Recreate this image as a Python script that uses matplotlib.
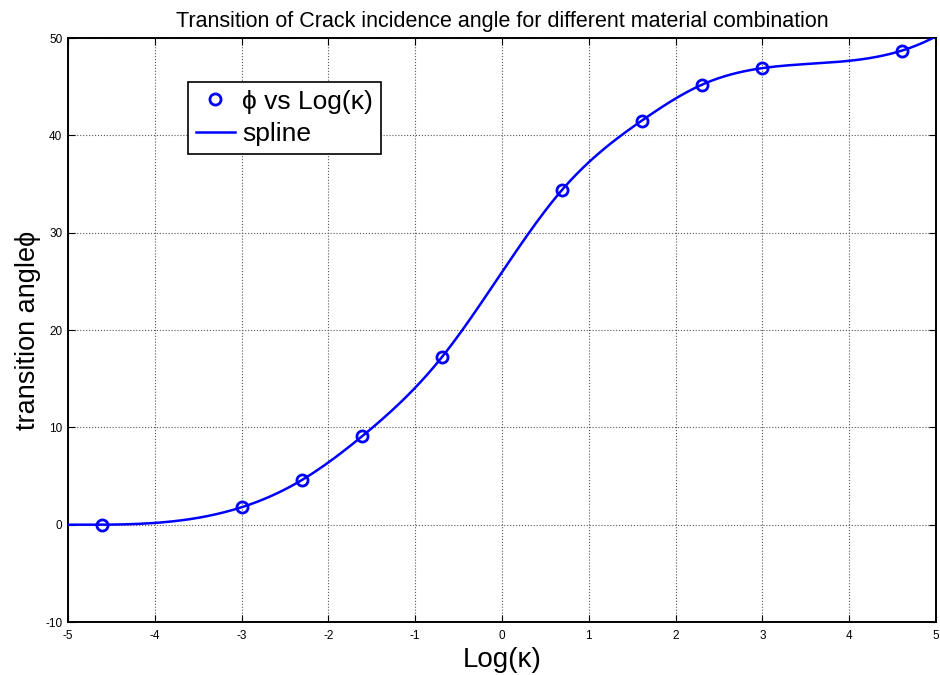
import numpy as np
import matplotlib

matplotlib.use("Agg")

import matplotlib.pyplot as plt  # noqa: E402

# Log(kappa) values of the tested material combinations and the transition angle
LOG_KAPPA = [-4.605, -2.996, -2.303, -1.609, -0.693, 0.693, 1.609, 2.303, 2.996, 4.605]
PHI = [0.0, 1.8, 4.6, 9.1, 17.2, 34.4, 41.5, 45.2, 46.9, 48.7]

X_TICKS = [-5, -4, -3, -2, -1, 0, 1, 2, 3, 4, 5]
Y_TICKS = [-10, 0, 10, 20, 30, 40, 50]


def not_a_knot_spline(x, y, xq):
    """Cubic spline with not-a-knot end conditions (same as MATLAB spline)."""
    x = np.asarray(x, float)
    y = np.asarray(y, float)
    n = len(x)
    h = np.diff(x)
    d = np.diff(y) / h
    A = np.zeros((n, n))
    b = np.zeros(n)
    # unknowns: second derivatives M
    for i in range(1, n - 1):
        A[i, i - 1] = h[i - 1]
        A[i, i] = 2 * (h[i - 1] + h[i])
        A[i, i + 1] = h[i]
        b[i] = 6 * (d[i] - d[i - 1])
    A[0, 0], A[0, 1], A[0, 2] = h[1], -(h[0] + h[1]), h[0]
    A[-1, -3], A[-1, -2], A[-1, -1] = h[-1], -(h[-2] + h[-1]), h[-2]
    M = np.linalg.solve(A, b)

    xq = np.asarray(xq, float)
    idx = np.clip(np.searchsorted(x, xq) - 1, 0, n - 2)
    x0, x1 = x[idx], x[idx + 1]
    hh = x1 - x0
    t0 = x1 - xq
    t1 = xq - x0
    return (M[idx] * t0 ** 3 / (6 * hh) + M[idx + 1] * t1 ** 3 / (6 * hh)
            + (y[idx] / hh - M[idx] * hh / 6) * t0
            + (y[idx + 1] / hh - M[idx + 1] * hh / 6) * t1)


plt.rcParams["font.family"] = ["Liberation Sans", "DejaVu Sans"]
plt.rcParams["axes.unicode_minus"] = False

fig = plt.figure(figsize=(9.4, 6.75), dpi=100)
ax = fig.add_axes([0.0723, 0.0785, 0.9234, 0.8652])

xs = np.linspace(X_TICKS[0], X_TICKS[-1], 400)
ax.plot(LOG_KAPPA, PHI, "o", color="#0000ff", markersize=8, markerfacecolor="none",
        markeredgewidth=2, label="\u03d5 vs Log(\u03ba)", zorder=4)
ax.plot(xs, not_a_knot_spline(LOG_KAPPA, PHI, xs), color="#0000ff", linewidth=1.8,
        label="spline", zorder=3)

ax.set_xlim(X_TICKS[0], X_TICKS[-1])
ax.set_ylim(Y_TICKS[0], Y_TICKS[-1])
ax.set_xticks(X_TICKS)
ax.set_yticks(Y_TICKS)
ax.tick_params(direction="in", top=True, right=True, labelsize=8.5, length=5, width=0.8)
ax.tick_params(axis="x", pad=6)
ax.tick_params(axis="y", pad=4)
ax.grid(True, color="#555555", linestyle=":", linewidth=0.8)
for s in ax.spines.values():
    s.set_linewidth(1.4)

ax.set_title("Transition of Crack incidence angle for different material combination",
             fontsize=15.5, pad=8)
ax.set_xlabel("Log(\u03ba)", fontsize=20, labelpad=3)
ax.set_ylabel("transition angle\u03d5", fontsize=19.5, labelpad=3)

leg = ax.legend(loc="upper left", bbox_to_anchor=(0.138, 0.925), borderaxespad=0,
                fontsize=19, fancybox=False, framealpha=1, edgecolor="black",
                borderpad=0.3, handlelength=1.5, handletextpad=0.25, labelspacing=0.31)
leg.get_frame().set_linewidth(1.2)

fig.savefig("out.png", dpi=100)
